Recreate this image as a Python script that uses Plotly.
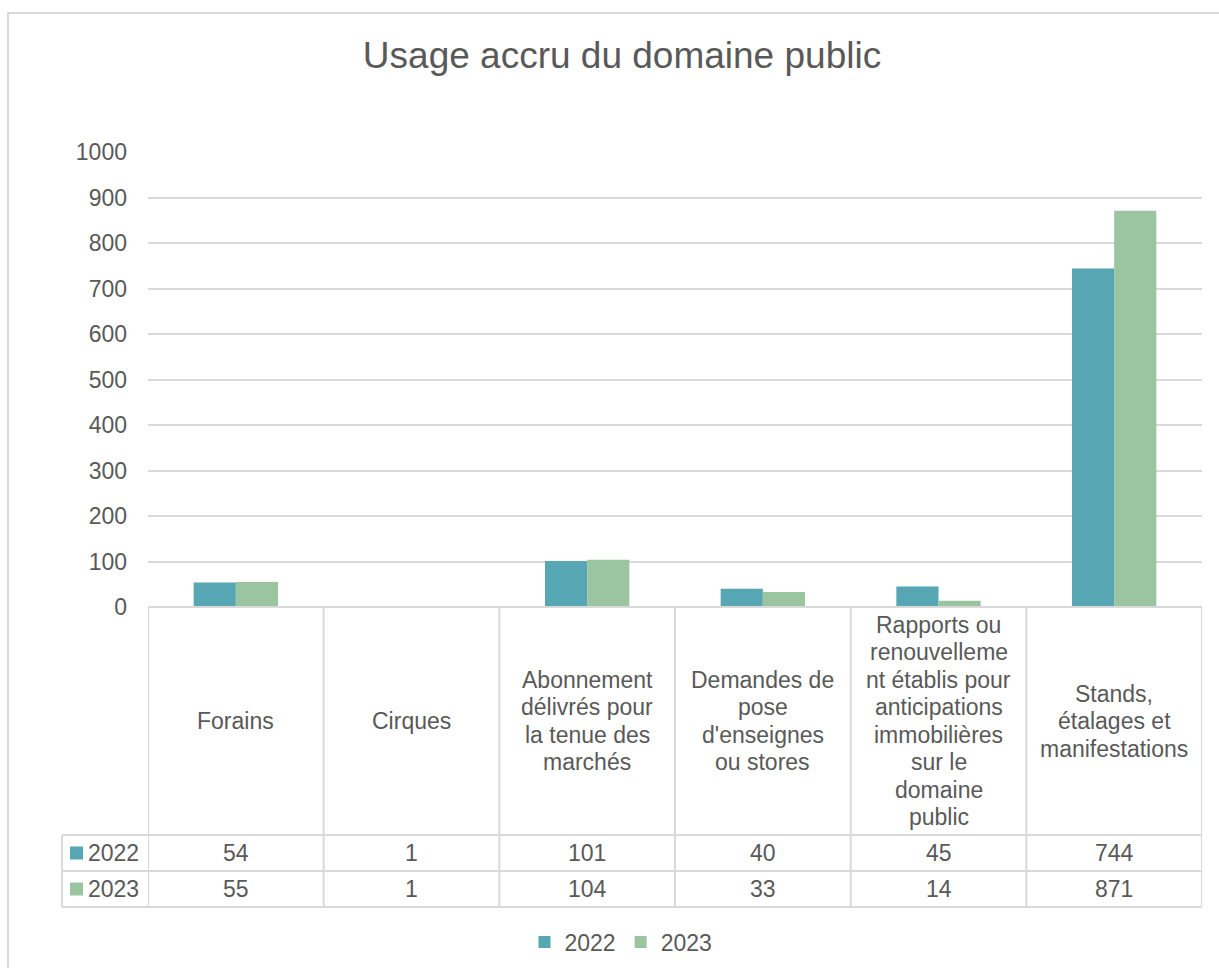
import plotly.graph_objects as go

# --- data -------------------------------------------------------------
categories = ["Forains", "Cirques", "Abonnement", "Demandes", "Rapports", "Stands"]
category_labels = [
    ["Forains"],
    ["Cirques"],
    ["Abonnement", "délivrés pour", "la tenue des", "marchés"],
    ["Demandes de", "pose", "d'enseignes", "ou stores"],
    ["Rapports ou", "renouvelleme", "nt établis pour", "anticipations",
     "immobilières", "sur le", "domaine", "public"],
    ["Stands,", "étalages et", "manifestations"],
]
series_names = ["2022", "2023"]
values_2022 = [54, 1, 101, 40, 45, 744]
values_2023 = [55, 1, 104, 33, 14, 871]
y_ticks = [0, 100, 200, 300, 400, 500, 600, 700, 800, 900, 1000]

# --- styling ------------------------------------------------------------
W, H = 1219, 968
TEXT = "#595959"
GRID = "#D9D9D9"
COLORS = ["#57A6B4", "#9BC5A1"]
FONT = "Liberation Sans, Arial, sans-serif"
FS = 23
LINE_STEP = 27.5  # pixel spacing between wrapped header lines


def py(pix):
    """Convert a pixel row (from top) to paper y."""
    return 1 - pix / H


def px(pix):
    """Convert a pixel column to paper x."""
    return pix / W


PLOT_L, PLOT_R = 148, 1202
PLOT_TOP, PLOT_BOTTOM = 152, 607
HEADER_BOTTOM, ROW1_BOTTOM, ROW2_BOTTOM = 835, 871, 907
TABLE_LEFT = 62

fig = go.Figure()
for name, vals, col in zip(series_names, [values_2022, values_2023], COLORS):
    fig.add_trace(go.Bar(x=categories, y=vals, name=name, marker=dict(color=col, line=dict(width=0))))

shapes = []
line = dict(color=GRID, width=2)

# outer chart frame
shapes.append(dict(type="rect", xref="paper", yref="paper",
                   x0=px(8), x1=1.02, y0=-0.02, y1=py(13), line=dict(color=GRID, width=2)))

# data table grid: horizontal rules
shapes.append(dict(type="line", xref="paper", yref="paper",
                   x0=px(PLOT_L), x1=px(PLOT_R), y0=py(PLOT_BOTTOM), y1=py(PLOT_BOTTOM), line=line))
for yy in (HEADER_BOTTOM, ROW1_BOTTOM, ROW2_BOTTOM):
    shapes.append(dict(type="line", xref="paper", yref="paper",
                       x0=px(TABLE_LEFT), x1=px(PLOT_R), y0=py(yy), y1=py(yy), line=line))
# vertical rules between categories
for i in range(len(categories) + 1):
    shapes.append(dict(type="line", xref="x", yref="paper",
                       x0=i - 0.5, x1=i - 0.5, y0=py(ROW2_BOTTOM), y1=py(PLOT_BOTTOM), line=line))
shapes.append(dict(type="line", xref="paper", yref="paper",
                   x0=px(TABLE_LEFT), x1=px(TABLE_LEFT), y0=py(ROW2_BOTTOM), y1=py(HEADER_BOTTOM), line=line))

annotations = []
# column headers, one annotation per wrapped line, centred in the header cell
header_mid = (PLOT_BOTTOM + HEADER_BOTTOM) / 2
for i, lines in enumerate(category_labels):
    n = len(lines)
    for k, txt in enumerate(lines):
        yc = header_mid + (k - (n - 1) / 2) * LINE_STEP
        annotations.append(dict(x=i, y=py(yc), xref="x", yref="paper", text=txt,
                                showarrow=False, xanchor="center", yanchor="middle",
                                font=dict(size=FS, color=TEXT, family=FONT)))

# table rows: series key + values
row_mids = [(HEADER_BOTTOM + ROW1_BOTTOM) / 2, (ROW1_BOTTOM + ROW2_BOTTOM) / 2]
for name, vals, col, ymid in zip(series_names, [values_2022, values_2023], COLORS, row_mids):
    shapes.append(dict(type="rect", xref="paper", yref="paper",
                       x0=px(70), x1=px(83), y0=py(ymid + 6.5), y1=py(ymid - 6.5),
                       fillcolor=col, line=dict(width=0)))
    annotations.append(dict(x=px(86), y=py(ymid), xref="paper", yref="paper", text=name,
                            showarrow=False, xanchor="left", yanchor="middle",
                            font=dict(size=FS, color=TEXT, family=FONT)))
    for i, v in enumerate(vals):
        annotations.append(dict(x=i, y=py(ymid), xref="x", yref="paper", text=str(v),
                                showarrow=False, xanchor="center", yanchor="middle",
                                font=dict(size=FS, color=TEXT, family=FONT)))

fig.update_layout(
    width=W, height=H,
    margin=dict(l=0, r=0, t=0, b=0, autoexpand=False),
    paper_bgcolor="white", plot_bgcolor="white",
    barmode="group", bargap=0.52, bargroupgap=0,
    title=dict(text="Usage accru du domaine public", x=px(622), xanchor="center",
               y=py(55), yanchor="middle", font=dict(size=37, color=TEXT, family=FONT)),
    xaxis=dict(domain=[px(PLOT_L), px(PLOT_R)], range=[-0.5, len(categories) - 0.5],
               showticklabels=False, showgrid=False, zeroline=False, showline=False, ticks=""),
    yaxis=dict(domain=[py(PLOT_BOTTOM), py(PLOT_TOP)], range=[0, 1000],
               tickvals=y_ticks, ticktext=[str(t) for t in y_ticks],
               showgrid=True, gridcolor=GRID, gridwidth=2, zeroline=False, showline=False,
               ticks="", ticklabelstandoff=20,
               tickfont=dict(size=FS, color=TEXT, family=FONT)),
    legend=dict(orientation="h", x=px(621), xanchor="center", y=py(942), yanchor="middle",
                font=dict(size=FS, color=TEXT, family=FONT), itemwidth=30,
                traceorder="normal"),
    shapes=shapes,
    annotations=annotations,
)

fig.write_html("out.html")
